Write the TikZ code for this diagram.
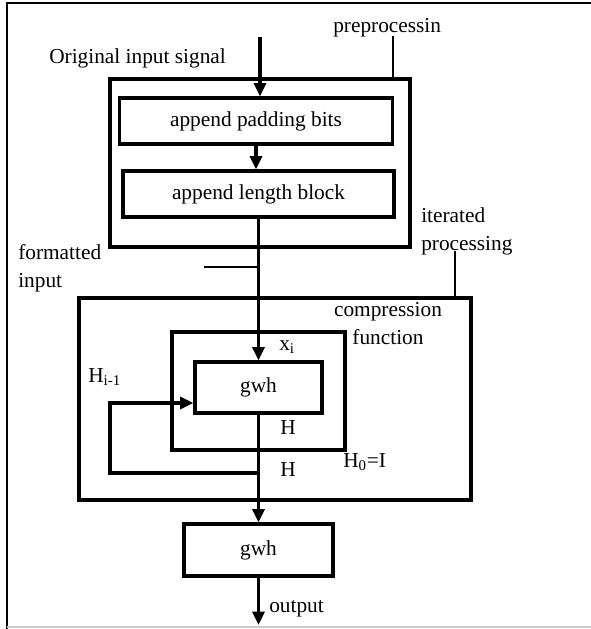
\documentclass[tikz,border=0pt]{standalone}
\usepackage{fontspec}
\setmainfont{Liberation Serif}
\usetikzlibrary{arrows.meta}

\begin{document}
\begin{tikzpicture}[
		x=0.75pt, y=-0.75pt,
		font=\fontsize{16}{21}\selectfont,
		block/.style={draw, line width=2.4pt, inner sep=0pt},
		flow/.style={line width=2.4pt, -{Triangle[length=10pt,width=9pt]}},
		leader/.style={line width=0.8pt},
		label/.style={anchor=base west, inner sep=0pt},
		note/.style={anchor=west, inner sep=0pt, align=left},
	]
		\useasboundingbox (0,0) rectangle (591,629);
		\draw[line width=1.2pt] (7,629) -- (7,3) -- (591,3);
		\draw[gray!40, line width=1pt] (7,627) -- (591,627);
		
		\node[block, minimum width=225pt, minimum height=126pt] (pre) at (260,163) {};
		\node[block, minimum width=204.75pt, minimum height=34.5pt] (pad) at (256,121) {append padding bits};
		\node[block, minimum width=203.25pt, minimum height=34.5pt] (len) at (258.5,194) {append length block};
		
		\node[block, minimum width=294pt, minimum height=151.5pt] (iter) at (275,399) {};
		\node[block, minimum width=129.75pt, minimum height=88.5pt] (comp) at (258.5,391) {};
		\node[block, minimum width=95.25pt, minimum height=38.25pt] (gwhin) at (258.5,387.5) {gwh};
		\node[block, minimum width=111.75pt, minimum height=39pt] (gwhout) at (258.5,550) {gwh};
		
		\coordinate (in) at (260,37);
		\coordinate (tap) at (258.5,473);
		\coordinate (loop) at (110,473);
		\coordinate (out) at (258.5,625);
		\draw[flow] (in) -- (in |- pad.north);
		\draw[flow] (pad.south) -- (pad.south |- len.north);
		\draw[flow] (len.south) -- (gwhin.north);
		\draw[flow] (gwhin.south) -- (gwhout.north);
		\draw[flow] (tap) -- (loop) |- ([yshift=-11.6pt]gwhin.west);
		\draw[flow] (gwhout.south) -- (out);
		
		\node[label] (prelbl) at (333,32) {preprocessin};
		\node[label] (inlbl) at (49,63) {Original input signal};
		\node[note] (itlbl) at (421,231) {iterated\\processing};
		\node[note] (fmtlbl) at (18,268) {formatted\\input};
		\node[align=center, inner sep=0pt] (cflbl) at (388,324) {compression\\function};
		\node[label] (xlbl) at (279,350) {x\textsubscript{i}};
		\node[label] (hprev) at (88,382) {H\textsubscript{i-1}};
		\node[label] (hone) at (280,434) {H};
		\node[label] (htwo) at (280,476) {H};
		\node[label] (hzero) at (343,467) {H\textsubscript{0}=I};
		\node[label] (outlbl) at (269,612) {output};
		
		\coordinate (pretick) at (393,36);
		\coordinate (ittick) at (455,251);
		\coordinate (fmt) at (204,267);
		\draw[leader] (pretick) -- (pretick |- pre.north);
		\draw[leader] (ittick) -- (ittick |- iter.north);
		\draw[leader] (fmt) -- (fmt -| len.south);
	\end{tikzpicture}
\end{document}
